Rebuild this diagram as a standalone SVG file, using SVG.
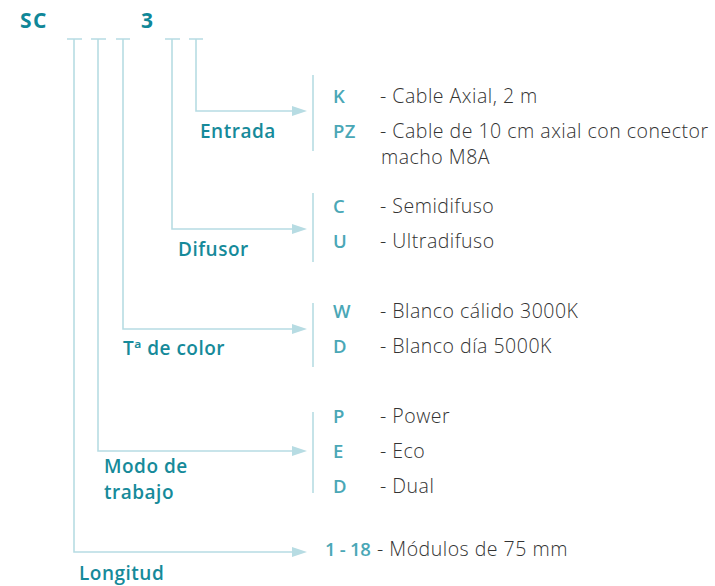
<svg xmlns="http://www.w3.org/2000/svg" width="715" height="586" viewBox="0 0 715 586">
<style>
.ln{stroke:#b7dce3;stroke-width:1.6;fill:none}
.title{font-family:"Open Sans","Noto Sans",sans-serif;font-weight:700;font-size:21px;letter-spacing:1.5px;fill:#108798}
.lab{font-family:"Open Sans","Noto Sans",sans-serif;font-weight:600;font-size:19px;letter-spacing:0.5px;fill:#168a9a}
.code{font-family:"Open Sans","Noto Sans",sans-serif;font-weight:600;font-size:18.5px;letter-spacing:0.3px;fill:#4aa7b6}
.desc{font-family:"Open Sans","Noto Sans",sans-serif;font-weight:300;font-size:19.5px;letter-spacing:0.5px;fill:#333333}
</style>
<defs>
<marker id="ah" markerWidth="16" markerHeight="10" refX="0" refY="5" orient="auto" markerUnits="userSpaceOnUse">
<path d="M0,0 L15,5 L0,10 Z" fill="#b7dce3"/>
</marker>
</defs>
<rect width="715" height="586" fill="#ffffff"/>
<g id="header">
<text class="title" x="20" y="28">SC</text>
<text class="title" x="141" y="28">3</text>
</g>
<g id="connectors">
<path class="ln" d="M67,39 H82 M91,39 H106 M116,39 H130 M165,39 H180 M189,39 H203"/>
<path class="ln" d="M196,39 V111 H292" marker-end="url(#ah)"/>
<path class="ln" d="M172,39 V229 H292" marker-end="url(#ah)"/>
<path class="ln" d="M123,39 V329 H292" marker-end="url(#ah)"/>
<path class="ln" d="M98,39 V451 H292" marker-end="url(#ah)"/>
<path class="ln" d="M74,39 V552 H292" marker-end="url(#ah)"/>
<path class="ln" d="M313,75 V151 M313,193 V262 M313,303 V367 M313,412 V493"/>
</g>
<g id="entrada">
<text class="lab" x="200" y="138">Entrada</text>
<text class="code" x="333" y="103">K</text>
<text class="desc" x="380" y="103">- Cable Axial, 2 m</text>
<text class="code" x="333" y="138">PZ</text>
<text class="desc" x="380" y="138">- Cable de 10 cm axial con conector</text>
<text class="desc" x="381" y="164">macho M8A</text>
</g>
<g id="difusor">
<text class="lab" x="178" y="256">Difusor</text>
<text class="code" x="333" y="213">C</text>
<text class="desc" x="380" y="213">- Semidifuso</text>
<text class="code" x="333" y="248">U</text>
<text class="desc" x="380" y="248">- Ultradifuso</text>
</g>
<g id="color">
<text class="lab" x="123" y="355">Tª de color</text>
<text class="code" x="333" y="318">W</text>
<text class="desc" x="380" y="318">- Blanco cálido 3000K</text>
<text class="code" x="333" y="353">D</text>
<text class="desc" x="380" y="353">- Blanco día 5000K</text>
</g>
<g id="modo">
<text class="lab" x="104" y="473">Modo de</text>
<text class="lab" x="104" y="499">trabajo</text>
<text class="code" x="333" y="423">P</text>
<text class="desc" x="380" y="423">- Power</text>
<text class="code" x="333" y="458">E</text>
<text class="desc" x="380" y="458">- Eco</text>
<text class="code" x="333" y="493">D</text>
<text class="desc" x="380" y="493">- Dual</text>
</g>
<g id="longitud">
<text class="lab" x="79" y="580">Longitud</text>
<text class="code" x="325" y="556" style="letter-spacing:-0.3px">1 - 18</text>
<text class="desc" x="377" y="556">- Módulos de 75 mm</text>
</g>
</svg>
